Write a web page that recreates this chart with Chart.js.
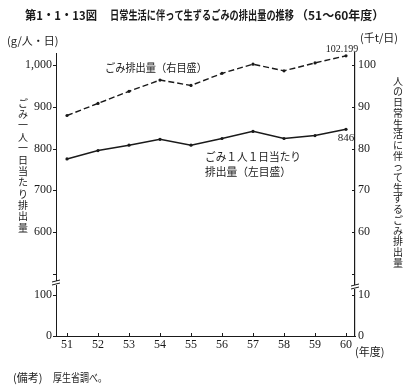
<!DOCTYPE html>
<html>
<head>
<meta charset="utf-8">
<script src="https://cdn.jsdelivr.net/npm/chart.js@4.4.1/dist/chart.umd.min.js"></script>
<style>
  html, body { margin: 0; padding: 0; background: #fff; }
</style>
</head>
<body>
<canvas id="chart" width="419" height="391"></canvas>
<script>
// data
const years = [51, 52, 53, 54, 55, 56, 57, 58, 59, 60];
const perPerson = [775, 795, 808, 822, 808, 824, 841, 824, 831, 846];              // g/人・日 (左目盛)
const totalWaste = [87.9, 90.8, 93.7, 96.4, 95.1, 98.0, 100.2, 98.6, 100.5, 102.2]; // 千t/日 (右目盛)
const leftTicks = [0, 100, 600, 700, 800, 900, 1000];
const rightTicks = [0, 10, 60, 70, 80, 90, 100];
const leftLabels = ['0', '100', '600', '700', '800', '900', '1,000'];
const rightLabels = ['0', '10', '60', '70', '80', '90', '100'];

// broken axes: both scales share one position space
function posLeft(v) {
  return v <= 100 ? v * 0.41 : 104 + (v - 600) * 0.4175;
}
function posRight(v) {
  return v <= 10 ? v * 4.1 : 104 + (v - 60) * 4.175;
}

const JP = '"Noto Sans CJK JP", sans-serif';
const SERIF = '"Liberation Serif", "DejaVu Serif", serif';
const INK = '#1a1a1a';

function vtext(ctx, str, x, y0, step) {
  ctx.textAlign = 'center';
  ctx.textBaseline = 'middle';
  [...str].forEach((ch, i) => ctx.fillText(ch, x, y0 + i * step));
}

const decorations = {
  id: 'decorations',
  afterDraw(chart) {
    const { ctx, chartArea: a, scales } = chart;
    const xs = scales.x, yl = scales.y, yr = scales.y2;
    ctx.save();
    ctx.strokeStyle = INK;
    ctx.fillStyle = INK;
    ctx.lineWidth = 1;
    const seg = (x1, y1, x2, y2) => { ctx.beginPath(); ctx.moveTo(x1, y1); ctx.lineTo(x2, y2); ctx.stroke(); };

    // tick marks
    years.forEach(yv => { const px = Math.round(xs.getPixelForValue(yv)) + 0.5; seg(px, a.bottom, px, a.bottom - 3); });
    [...leftTicks, 500].forEach(v => { const py = Math.round(yl.getPixelForValue(posLeft(v))) + 0.5; seg(a.left - 3, py, a.left, py); });
    [...rightTicks, 50].forEach(v => { const py = Math.round(yr.getPixelForValue(posRight(v))) + 0.5; seg(a.right - 3, py, a.right, py); });

    // axis break marks
    [[a.left, yl.getPixelForValue(53)], [a.right, yr.getPixelForValue(49)]].forEach(([bx, by]) => {
      ctx.fillStyle = '#fff';
      ctx.fillRect(bx - 2, by - 2, 4, 4);
      ctx.fillStyle = INK;
      seg(bx - 4, by - 1, bx + 4, by - 3);
      seg(bx - 4, by + 2, bx + 4, by);
    });

    // title
    ctx.textBaseline = 'middle';
    ctx.textAlign = 'left';
    ctx.font = 'bold 12px ' + JP;
    ctx.fillText('第1・1・13図', 25, 15, 72);
    ctx.fillText('日常生活に伴って生ずるごみの排出量の推移', 110, 15, 184);
    ctx.fillText('（51～60年度）', 296, 15, 110);

    // units
    ctx.font = '11px ' + JP;
    ctx.fillText('(g/人・日)', 7, 41, 57);
    ctx.fillText('(千t/日)', 360, 38, 44);
    ctx.fillText('(年度)', 355, 352, 32);
    ctx.fillText('(備考)', 13, 378, 30);
    ctx.fillText('厚生省調べ。', 53, 378, 54);

    // series labels
    ctx.font = '11px ' + JP;
    ctx.fillText('ごみ排出量（右目盛）', 105, 68, 102);
    ctx.fillText('ごみ１人１日当たり', 205, 157, 96);
    ctx.fillText('排出量（左目盛）', 205, 172, 86);

    // end values
    ctx.font = '10px ' + SERIF;
    ctx.textAlign = 'center';
    ctx.fillText('102.199', 342, 49);
    ctx.font = '11px ' + SERIF;
    ctx.fillText('846', 346, 138);

    // vertical axis titles
    ctx.font = '10px ' + JP;
    vtext(ctx, 'ごみ一人一日当たり排出量', 23, 103, 11.35);
    vtext(ctx, '人の日常生活に伴って生ずるごみ排出量', 398, 81, 10.7);
    ctx.restore();
  }
};

const ctx = document.getElementById('chart').getContext('2d');
new Chart(ctx, {
  type: 'line',
  data: {
    datasets: [
      {
        label: 'ごみ排出量（右目盛）',
        data: years.map((yv, i) => ({ x: yv, y: posRight(totalWaste[i]) })),
        yAxisID: 'y2',
        borderColor: INK,
        borderWidth: 1.4,
        borderDash: [6, 3],
        pointRadius: 1.6,
        pointBackgroundColor: INK,
        pointBorderWidth: 0,
        tension: 0
      },
      {
        label: 'ごみ１人１日当たり排出量（左目盛）',
        data: years.map((yv, i) => ({ x: yv, y: posLeft(perPerson[i]) })),
        yAxisID: 'y',
        borderColor: INK,
        borderWidth: 1.5,
        pointRadius: 1.6,
        pointBackgroundColor: INK,
        pointBorderWidth: 0,
        tension: 0
      }
    ]
  },
  options: {
    responsive: false,
    animation: false,
    devicePixelRatio: 1,
    layout: { padding: { top: 53, left: 0, right: 0, bottom: 0 } },
    plugins: { legend: { display: false }, tooltip: { enabled: false } },
    scales: {
      x: {
        type: 'linear',
        min: 50.645,
        max: 60.29,
        afterBuildTicks: s => { s.ticks = years.map(v => ({ value: v })); },
        afterFit: s => { s.height = 55; },
        grid: { display: false, drawTicks: false },
        border: { display: true, color: INK, width: 1 },
        ticks: {
          autoSkip: false,
          maxRotation: 0,
          padding: 2,
          color: INK,
          font: { family: SERIF, size: 12 },
          callback: v => String(v)
        }
      },
      y: {
        position: 'left',
        min: 0,
        max: 283,
        afterBuildTicks: s => { s.ticks = leftTicks.map(v => ({ value: posLeft(v) })); },
        afterFit: s => { s.width = 56; },
        grid: { display: false, drawTicks: false },
        border: { display: true, color: INK, width: 1 },
        ticks: {
          autoSkip: false,
          padding: 4,
          color: INK,
          font: { family: SERIF, size: 12 },
          callback: (v, i) => leftLabels[i]
        }
      },
      y2: {
        position: 'right',
        min: 0,
        max: 283,
        afterBuildTicks: s => { s.ticks = rightTicks.map(v => ({ value: posRight(v) })); },
        afterFit: s => { s.width = 64; },
        grid: { display: false, drawTicks: false },
        border: { display: true, color: INK, width: 1.2 },
        ticks: {
          autoSkip: false,
          padding: 3,
          color: INK,
          font: { family: SERIF, size: 12 },
          callback: (v, i) => rightLabels[i]
        }
      }
    }
  },
  plugins: [decorations]
});
</script>
</body>
</html>
